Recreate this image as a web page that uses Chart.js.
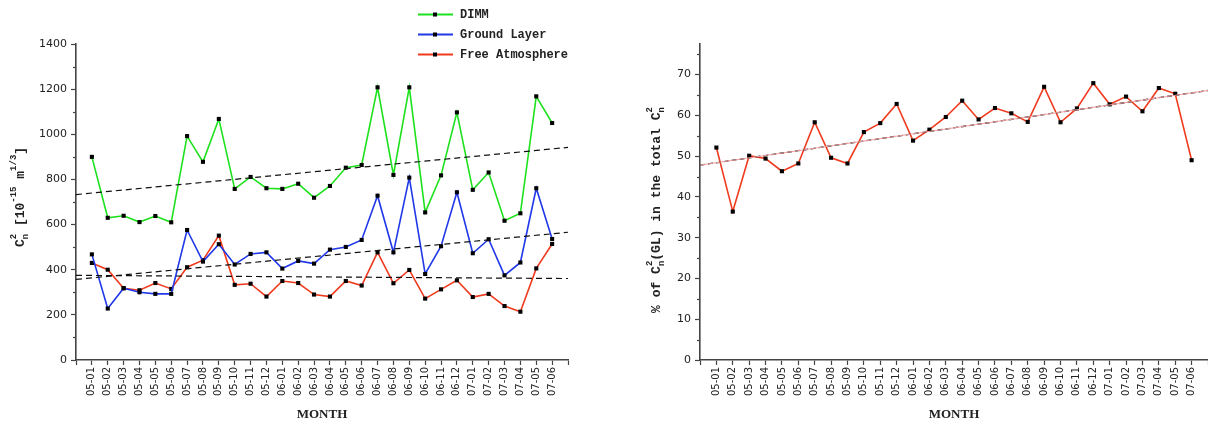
<!DOCTYPE html>
<html>
<head>
<meta charset="utf-8">
<script src="https://cdn.jsdelivr.net/npm/chart.js@4"></script>
<style>
  html, body { margin: 0; padding: 0; background: #fff; }
  #wrap { position: relative; width: 1208px; height: 423px; overflow: hidden; }
  #left { position: absolute; left: 0; top: 0; }
  #right { position: absolute; left: 620px; top: 0; }
</style>
</head>
<body>
<div id="wrap">
  <canvas id="left" width="620" height="423"></canvas>
  <canvas id="right" width="592" height="423"></canvas>
</div>
<script>
// months on the x axis
const months = ['05-01','05-02','05-03','05-04','05-05','05-06','05-07','05-08','05-09','05-10','05-11','05-12',
                '06-01','06-02','06-03','06-04','06-05','06-06','06-07','06-08','06-09','06-10','06-11','06-12',
                '07-01','07-02','07-03','07-04','07-05','07-06'];

// Cn2 values [10^-15 m^1/3]
const dimm   = [900,630,639,611,638,610,992,878,1068,758,811,761,758,781,719,771,852,864,1208,820,1208,654,818,1097,754,831,617,650,1168,1050];
const ground = [468,228,318,300,293,293,576,436,513,423,470,477,405,439,427,489,501,532,728,477,808,381,504,743,473,535,375,432,761,536];
const free   = [430,400,318,309,341,315,411,442,551,333,338,281,350,341,290,281,350,330,477,340,399,272,313,353,279,293,239,214,406,514];

// % of ground layer in total Cn2
const glPercent = [52.1,36.4,50.1,49.4,46.3,48.2,58.3,49.6,48.2,55.9,58.1,62.8,53.8,56.5,59.6,63.6,59.0,61.8,60.5,58.4,67.0,58.3,61.7,67.9,62.7,64.6,61.0,66.7,65.3,49.0];

// linear fits, end points at x = -1 and x = 30
const trendX       = [-1, 30];
const dimmTrend    = [733, 942];
const groundTrend  = [357, 566];
const freeTrend    = [375, 361];
const percentTrend = [47.8, 66.1];

// minor tick values
const leftTicksMinor  = [100,300,500,700,900,1100,1300];
const rightTicksMinor = [5,15,25,35,45,55,65,75];

const GREEN = '#1ee11e', BLUE = '#2038e8', RED = '#f03a1e', AXIS = '#444';
const MONO = '"Liberation Mono", "DejaVu Sans Mono", monospace';

Chart.defaults.font.family = '"DejaVu Sans", sans-serif';
Chart.defaults.color = '#222';

function pts(arr) { return arr.map((v, i) => ({ x: i, y: v })); }
function line(xs, ys) { return xs.map((x, i) => ({ x: x, y: ys[i] })); }

function series(label, data, color) {
  return {
    label: label, data: pts(data), borderColor: color, borderWidth: 1.6,
    pointStyle: 'rect', pointRadius: 2.9, pointBackgroundColor: '#000', pointBorderWidth: 0,
    tension: 0
  };
}
function trend(ys, color, width, dash) {
  return {
    label: '', data: line(trendX, ys), borderColor: color, borderWidth: width,
    borderDash: dash, pointRadius: 0, tension: 0
  };
}

// vertical rich text title with stacked sup/sub parts
function drawVTitle(ctx, cx, cy, segs, size) {
  const big = 'bold ' + size + 'px ' + MONO;
  const small = 'bold ' + Math.round(size * 0.72) + 'px ' + MONO;
  ctx.save();
  let total = 0;
  segs.forEach(s => {
    ctx.font = big; s.w = ctx.measureText(s.t).width;
    ctx.font = small;
    s.w2 = Math.max(s.sup ? ctx.measureText(s.sup).width : 0, s.sub ? ctx.measureText(s.sub).width : 0);
    total += s.w + s.w2;
  });
  ctx.translate(cx, cy);
  ctx.rotate(-Math.PI / 2);
  ctx.fillStyle = '#222';
  ctx.textBaseline = 'middle';
  ctx.textAlign = 'left';
  let x = -total / 2;
  segs.forEach(s => {
    ctx.font = big; ctx.fillText(s.t, x, 0);
    x += s.w;
    ctx.font = small;
    if (s.sup) ctx.fillText(s.sup, x, -size * 0.55);
    if (s.sub) ctx.fillText(s.sub, x, size * 0.35);
    x += s.w2;
  });
  ctx.restore();
}

function minorTicks(values) {
  return {
    id: 'minor',
    afterDraw(chart) {
      const ctx = chart.ctx, y = chart.scales.y, left = chart.chartArea.left;
      ctx.save();
      ctx.strokeStyle = AXIS; ctx.lineWidth = 1.2;
      values.forEach(v => {
        const py = Math.round(y.getPixelForValue(v)) + 0.5;
        ctx.beginPath(); ctx.moveTo(left - 3, py); ctx.lineTo(left, py); ctx.stroke();
      });
      ctx.restore();
    }
  };
}

function xScale() {
  return {
    type: 'linear', min: -1, max: 30,
    afterFit(s) { s.height = 63; s.paddingRight = 0; s.paddingLeft = 0; },
    ticks: {
      stepSize: 1, autoSkip: false, minRotation: 90, maxRotation: 90, padding: 2,
      font: { size: 10 }, color: '#222',
      callback: v => months[v] || ''
    },
    grid: { drawOnChartArea: false, drawTicks: true, tickLength: 5, tickColor: AXIS, tickWidth: 1.2 },
    border: { color: AXIS, width: 1.6 },
    title: { display: true, text: 'MONTH', padding: { top: 0, bottom: 1 },
             font: { family: '"Liberation Serif", serif', size: 13, weight: 'bold' }, color: '#222' }
  };
}

function yScale(min, max, step, width) {
  return {
    min: min, max: max,
    afterFit(s) { s.width = width; },
    ticks: { stepSize: step, includeBounds: false, padding: 4, font: { size: 11 }, color: '#222',
             callback: v => String(v) },
    grid: { drawOnChartArea: false, drawTicks: true, tickLength: 5, tickColor: AXIS, tickWidth: 1.2 },
    border: { color: AXIS, width: 1.6 }
  };
}

const legendPlugin = {
  id: 'legendBox',
  afterDraw(chart) {
    const ctx = chart.ctx;
    const items = [['DIMM', GREEN], ['Ground Layer', BLUE], ['Free Atmosphere', RED]];
    ctx.save();
    items.forEach((it, i) => {
      const y = 14 + i * 20;
      ctx.strokeStyle = it[1]; ctx.lineWidth = 1.8;
      ctx.beginPath(); ctx.moveTo(418, y + 0.5); ctx.lineTo(453, y + 0.5); ctx.stroke();
      ctx.fillStyle = '#000'; ctx.fillRect(433, y - 1.5, 4, 4);
      ctx.font = 'bold 12px ' + MONO; ctx.fillStyle = '#222';
      ctx.textBaseline = 'middle'; ctx.textAlign = 'left';
      ctx.fillText(it[0], 460, y + 1);
    });
    ctx.restore();
  }
};

const leftTitle = {
  id: 'ltitle',
  afterDraw(chart) {
    drawVTitle(chart.ctx, 21, 197, [
      { t: 'C', sup: '2', sub: 'n' }, { t: ' [10', sup: '-15' }, { t: ' m', sup: '1/3' }, { t: ']' }
    ], 13);
  }
};
const rightTitle = {
  id: 'rtitle',
  afterDraw(chart) {
    drawVTitle(chart.ctx, 37, 210, [
      { t: '% of C', sup: '2', sub: 'n' }, { t: '(GL) in the total C', sup: '2', sub: 'n' }
    ], 13);
  }
};

new Chart(document.getElementById('left'), {
  type: 'line',
  data: {
    datasets: [
      trend(dimmTrend, '#111', 1.2, [6, 4]),
      trend(groundTrend, '#111', 1.2, [6, 4]),
      trend(freeTrend, '#111', 1.2, [6, 4]),
      series('DIMM', dimm, GREEN),
      series('Ground Layer', ground, BLUE),
      series('Free Atmosphere', free, RED)
    ]
  },
  options: {
    responsive: false, animation: false,
    layout: { padding: { top: 44, right: 52, left: 0, bottom: 0 } },
    plugins: { legend: { display: false }, tooltip: { enabled: false } },
    scales: { x: xScale(), y: yScale(0, 1400, 200, 76) }
  },
  plugins: [minorTicks(leftTicksMinor), legendPlugin, leftTitle]
});

new Chart(document.getElementById('right'), {
  type: 'line',
  data: {
    datasets: [
      trend(percentTrend, '#f4a0a0', 1, []),
      trend(percentTrend, '#111', 1.3, [5, 3]),
      series('% GL', glPercent, RED)
    ]
  },
  options: {
    responsive: false, animation: false,
    layout: { padding: { top: 44, right: 0, left: 0, bottom: 0 } },
    plugins: { legend: { display: false }, tooltip: { enabled: false } },
    scales: { x: xScale(), y: yScale(0, 77.5, 10, 80) }
  },
  plugins: [minorTicks(rightTicksMinor), rightTitle]
});
</script>
</body>
</html>
